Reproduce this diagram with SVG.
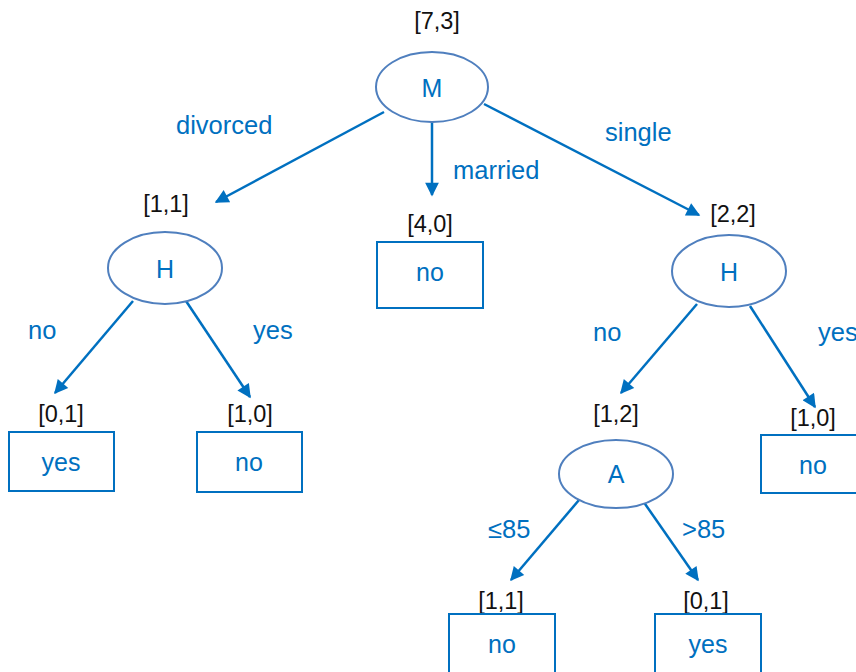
<svg xmlns="http://www.w3.org/2000/svg" width="856" height="672" viewBox="0 0 856 672">
<defs>
<style>
.ell{fill:#fff;stroke:#4F7FBE;stroke-width:2}
.box{fill:#fff;stroke:#0070C0;stroke-width:2}
.t{font-family:"Liberation Sans",Arial,sans-serif;font-size:25px;fill:#0070C0;text-anchor:middle}
.lbl{font-family:"Liberation Sans",Arial,sans-serif;font-size:25.5px;fill:#0070C0}
.cnt{font-family:"Liberation Sans",Arial,sans-serif;font-size:23.5px;fill:#111;text-anchor:middle}
.edge{stroke:#0070C0;stroke-width:2.5;fill:none;marker-end:url(#ah)}
</style>
<marker id="ah" viewBox="0 0 10 10" refX="9" refY="5" markerWidth="6.5" markerHeight="5.5" markerUnits="strokeWidth" orient="auto">
<path d="M0,0 L10,5 L0,10 z" fill="#0070C0"/>
</marker>
</defs>
<rect width="856" height="672" fill="#fff"/>
<g id="connectors">
<line class="edge" x1="384" y1="112" x2="216" y2="202"/>
<line class="edge" x1="432" y1="122" x2="432" y2="195"/>
<line class="edge" x1="484" y1="104" x2="699" y2="215"/>
<line class="edge" x1="133" y1="301" x2="55" y2="393"/>
<line class="edge" x1="186" y1="301" x2="250" y2="397"/>
<line class="edge" x1="697" y1="304" x2="621" y2="393"/>
<line class="edge" x1="750" y1="306" x2="815" y2="407"/>
<line class="edge" x1="579" y1="500" x2="511" y2="580"/>
<line class="edge" x1="643" y1="501" x2="698" y2="580"/>
<text class="lbl" x="176" y="134">divorced</text>
<text class="lbl" x="453" y="179">married</text>
<text class="lbl" x="605" y="141">single</text>
<text class="lbl" x="28" y="339">no</text>
<text class="lbl" x="253" y="339">yes</text>
<text class="lbl" x="593" y="341">no</text>
<text class="lbl" x="818" y="341">yes</text>
<text class="lbl" x="488" y="538">≤85</text>
<text class="lbl" x="682" y="538">&gt;85</text>
</g>
<g id="node-M">
<text class="cnt" x="437" y="29">[7,3]</text>
<ellipse class="ell" cx="432" cy="87" rx="56" ry="35"/>
<text class="t" x="432" y="97">M</text>
</g>
<g id="node-H1">
<text class="cnt" x="166" y="212">[1,1]</text>
<ellipse class="ell" cx="165" cy="268" rx="57" ry="36"/>
<text class="t" x="165" y="278">H</text>
</g>
<g id="node-married">
<text class="cnt" x="430" y="232">[4,0]</text>
<rect class="box" x="377" y="242" width="106" height="66"/>
<text class="t" x="430" y="281">no</text>
</g>
<g id="node-H2">
<text class="cnt" x="733" y="222">[2,2]</text>
<ellipse class="ell" cx="729" cy="271" rx="57" ry="36"/>
<text class="t" x="729" y="281">H</text>
</g>
<g id="node-leaf-yes1">
<text class="cnt" x="61" y="422">[0,1]</text>
<rect class="box" x="9" y="432" width="105" height="59"/>
<text class="t" x="61" y="471">yes</text>
</g>
<g id="node-leaf-no1">
<text class="cnt" x="250" y="422">[1,0]</text>
<rect class="box" x="197" y="432" width="105" height="60"/>
<text class="t" x="249" y="471">no</text>
</g>
<g id="node-leaf-no2">
<text class="cnt" x="813" y="426">[1,0]</text>
<rect class="box" x="761" y="435" width="105" height="58"/>
<text class="t" x="813" y="474">no</text>
</g>
<g id="node-A">
<text class="cnt" x="616" y="422">[1,2]</text>
<ellipse class="ell" cx="616" cy="474" rx="57" ry="34"/>
<text class="t" x="616" y="483">A</text>
</g>
<g id="node-leaf-no3">
<text class="cnt" x="501" y="609">[1,1]</text>
<rect class="box" x="449" y="614" width="106" height="70"/>
<text class="t" x="502" y="653">no</text>
</g>
<g id="node-leaf-yes2">
<text class="cnt" x="706" y="609">[0,1]</text>
<rect class="box" x="655" y="614" width="106" height="70"/>
<text class="t" x="708" y="653">yes</text>
</g>
</svg>
